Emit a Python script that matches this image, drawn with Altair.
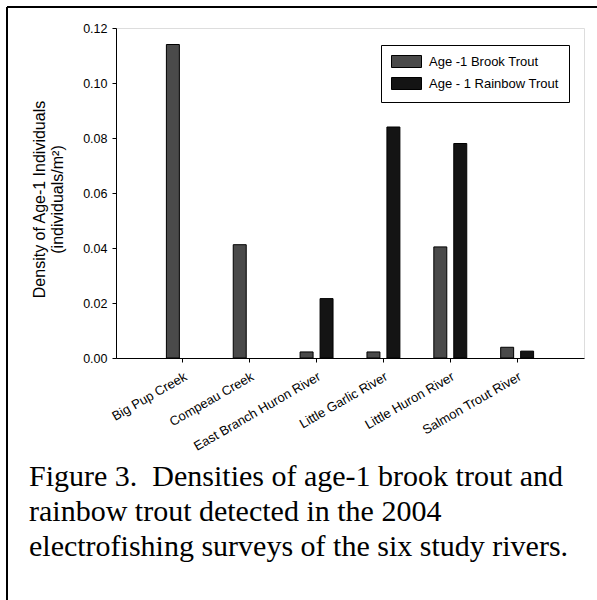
import altair as alt
import pandas as pd

rivers = ["Big Pup Creek", "Compeau Creek", "East Branch Huron River",
          "Little Garlic River", "Little Huron River", "Salmon Trout River"]
series = ["Age -1 Brook Trout", "Age - 1 Rainbow Trout"]
brook = [0.114, 0.0412, 0.0022, 0.0022, 0.0404, 0.0039]
rainbow = [0.0, 0.0, 0.0216, 0.084, 0.078, 0.0025]
y_ticks = [0.0, 0.02, 0.04, 0.06, 0.08, 0.10, 0.12]
caption = ["Figure 3.\u00a0 Densities of age-1 brook trout and",
           "rainbow trout detected in the 2004",
           "electrofishing surveys of the six study rivers."]

rows = []
for i, r in enumerate(rivers):
    rows.append({"river": r, "series": series[0], "density": brook[i]})
    rows.append({"river": r, "series": series[1], "density": rainbow[i]})
df = pd.DataFrame(rows)

SANS = "Liberation Sans"
W, H = 468, 330

bars = alt.Chart(df).transform_filter("datum.density > 0").mark_bar(
    stroke="black", strokeWidth=1).encode(
    x=alt.X("river:N", sort=rivers,
            scale=alt.Scale(domain=rivers, paddingInner=0, paddingOuter=0.5),
            axis=alt.Axis(title=None, labelAngle=330, labelAlign="right",
                          labelBaseline="top", labelPadding=8, tickSize=4,
                          labelFontSize=13, labelFont=SANS, labelColor="black",
                          domainColor="black", tickColor="black", grid=False)),
    xOffset=alt.XOffset("series:N", sort=series,
                        scale=alt.Scale(domain=series, paddingInner=0.35, paddingOuter=0.85)),
    y=alt.Y("density:Q", scale=alt.Scale(domain=[0, 0.12], nice=False),
            axis=alt.Axis(values=y_ticks, format=".2f",
                          title=["Density of Age-1 Individuals", "(individuals/m\u00b2)"],
                          titleFont=SANS, titleFontSize=16, titleFontWeight="normal",
                          titleColor="black", titleLineHeight=18, titlePadding=17,
                          titleAlign="center", titleY=171,
                          labelFont=SANS, labelFontSize=12.5, labelColor="black",
                          labelPadding=5, tickSize=4, domainColor="black",
                          tickColor="black", grid=False)),
    fill=alt.Fill("series:N", sort=series,
                  scale=alt.Scale(domain=series, range=["#4a4a4a", "#141414"]),
                  legend=alt.Legend(title=None, orient="none", legendX=265, legendY=17,
                                    direction="vertical", strokeColor="black",
                                    fillColor="white", padding=10,
                                    symbolType="M-1,-1H4V1H-1Z", symbolSize=144,
                                    symbolStrokeColor="black", symbolStrokeWidth=1,
                                    labelFont=SANS, labelFontSize=13, labelColor="black",
                                    labelOffset=25, rowPadding=5)),
)

top_border = alt.Chart(df).mark_rule(color="black", strokeWidth=2).encode(
    x=alt.value(-109), x2=alt.value(481), y=alt.value(-21))
left_border = alt.Chart(df).mark_rule(color="black", strokeWidth=2).encode(
    x=alt.value(-109), y=alt.value(-21), y2=alt.value(572))

cap = alt.Chart(pd.DataFrame({"c": [0]})).mark_text(
    font="Liberation Serif", fontSize=30, lineHeight=35, align="left",
    baseline="alphabetic", color="black").encode(
    x=alt.value(-87), y=alt.value(458), text=alt.value(caption))

chart = alt.layer(bars, top_border, left_border, cap).properties(
    width=W, height=H,
    autosize=alt.AutoSizeParams(type="none"),
    padding={"left": 116, "top": 28, "right": 13, "bottom": 242},
).configure_view(stroke="black", strokeWidth=1).configure(background="white")

chart.save("out.html", embed_options={"renderer": "svg", "actions": False})
